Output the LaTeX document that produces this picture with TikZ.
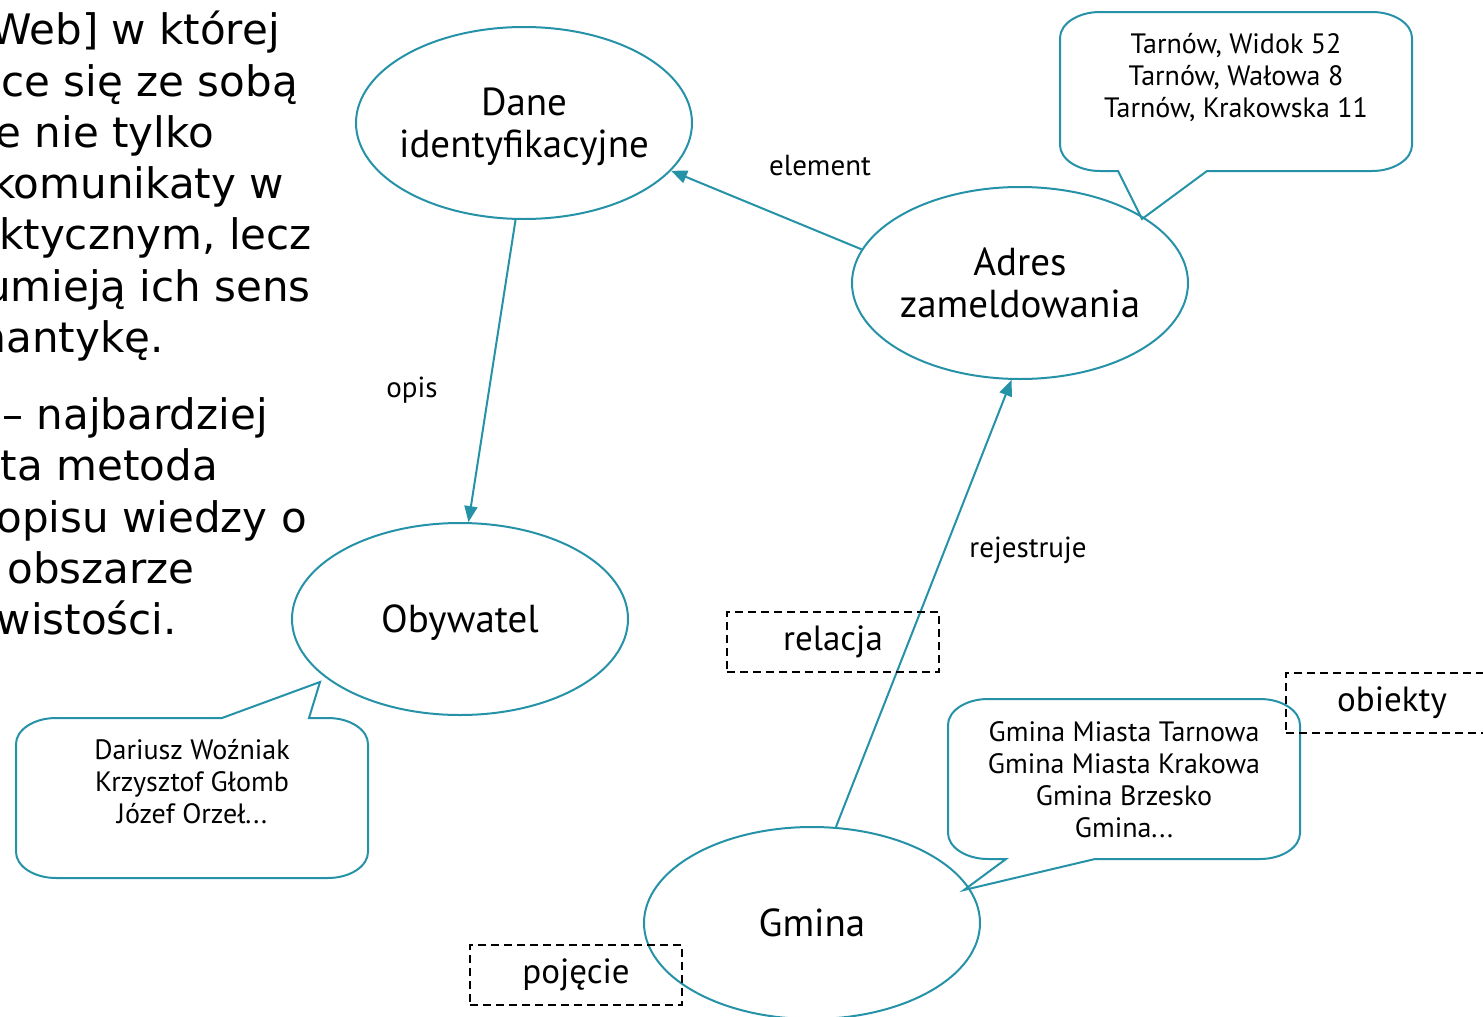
\documentclass[tikz,border=0pt]{standalone}
\usepackage{fontspec}
\setmainfont{PT Sans}
\newfontfamily\bodyfont{DejaVu Sans}
\usetikzlibrary{shapes.geometric,arrows.meta}
\definecolor{linkteal}{RGB}{38,146,168}
\begin{document}
\begin{tikzpicture}[x=1pt,y=-1pt,
  concept/.style={ellipse,draw=linkteal,line width=2pt,minimum width=336pt,
    minimum height=192pt,inner xsep=-40pt,inner ysep=0pt,align=center,text depth=0pt,
    font=\fontsize{39}{42}\selectfont},
  rel/.style={draw=linkteal,line width=2pt,-{Triangle[length=16pt,width=13pt]}},
  rellabel/.style={inner sep=0pt,font=\fontsize{29}{32}\selectfont},
  bubble/.style={draw=linkteal,line width=2pt,line join=miter},
  bubbletext/.style={align=center,inner sep=0pt,font=\fontsize{28}{32}\selectfont},
  tagbox/.style={draw=black,line width=2pt,dash pattern=on 8pt off 5pt,
    minimum width=212pt,minimum height=60pt,inner sep=0pt,font=\fontsize{35}{38}\selectfont},
  bodyline/.style={anchor=base east,inner sep=0pt,font=\bodyfont\fontsize{42}{51}\selectfont}
]
\useasboundingbox (0,0) rectangle (1483,1017);
\clip (0,0) rectangle (1483,1017);

% body text of the slide, cut at the left edge
\node[bodyline] (t1)  at (280,44)  {Web] w której};
\node[bodyline] (t2)  at (298,96)  {ce się ze sobą};
\node[bodyline] (t3)  at (214,147) {e nie tylko};
\node[bodyline] (t4)  at (284,198) {komunikaty w};
\node[bodyline] (t5)  at (312,249) {ktycznym, lecz};
\node[bodyline] (t6)  at (311,301) {umieją ich sens};
\node[bodyline] (t7)  at (164,352) {mantykę.};
\node[bodyline] (t8)  at (268,429) {– najbardziej};
\node[bodyline] (t9)  at (218,480) {ta metoda};
\node[bodyline] (t10) at (307,532) {opisu wiedzy o};
\node[bodyline] (t11) at (195,583) {obszarze};
\node[bodyline] (t12) at (177,634) {wistości.};

% concepts
\node[concept] (dane)   at (524,123) {Dane\\identyfikacyjne};
\node[concept] (adres)  at (1020,283) {Adres\\zameldowania};
\node[concept] (obyw)   at (460,619) {Obywatel};
\node[concept] (gmina)  at (812,923) {Gmina};

% relations
\draw[rel] (dane.265) -- (obyw.85);
\draw[rel] (adres.168) -- (dane.-18);
\draw[rel] (gmina.76) -- (adres.265);
\node[rellabel] (lopis) at (412,390) {opis};
\node[rellabel] (lelem) at (820,166) {element};
\node[rellabel] (lrej)  at (1028,550) {rejestruje};

% speech bubbles with examples
\draw[bubble] (1100,12) -- (1372,12)
  .. controls (1394,12) and (1412,23.7) .. (1412,38) -- (1412,145)
  .. controls (1412,159.3) and (1394,171) .. (1372,171)
  -- (1207,171) -- (1142,219) -- (1118,171) -- (1100,171)
  .. controls (1078,171) and (1060,159.3) .. (1060,145) -- (1060,38)
  .. controls (1060,23.7) and (1078,12) .. (1100,12) -- cycle;
\node[bubbletext] (ex1) at (1236,78) {Tarnów, Widok 52\\Tarnów, Wałowa 8\\Tarnów, Krakowska 11};

\draw[bubble] (56,718) -- (222,718) -- (320,682) -- (309,718) -- (328,718)
  .. controls (350,718) and (368,729.7) .. (368,744) -- (368,852)
  .. controls (368,866.3) and (350,878) .. (328,878) -- (56,878)
  .. controls (34,878) and (16,866.3) .. (16,852) -- (16,744)
  .. controls (16,729.7) and (34,718) .. (56,718) -- cycle;
\node[bubbletext] (ex2) at (192,782) {Dariusz Woźniak\\Krzysztof Głomb\\Józef Orzeł...};

\draw[bubble] (988,699) -- (1260,699)
  .. controls (1282,699) and (1300,710.7) .. (1300,725) -- (1300,833)
  .. controls (1300,847.3) and (1282,859) .. (1260,859)
  -- (1095,859) -- (964,890) -- (1006,859) -- (988,859)
  .. controls (966,859) and (948,847.3) .. (948,833) -- (948,725)
  .. controls (948,710.7) and (966,699) .. (988,699) -- cycle;
\node[bubbletext] (ex3) at (1124,780) {Gmina Miasta Tarnowa\\Gmina Miasta Krakowa\\Gmina Brzesko\\Gmina...};

% dashed tags
\node[tagbox] (trel) at (833,642) {relacja};
\node[tagbox] (tobj) at (1392,703) {obiekty};
\node[tagbox] (tpoj) at (576,975) {pojęcie};
\end{tikzpicture}
\end{document}
